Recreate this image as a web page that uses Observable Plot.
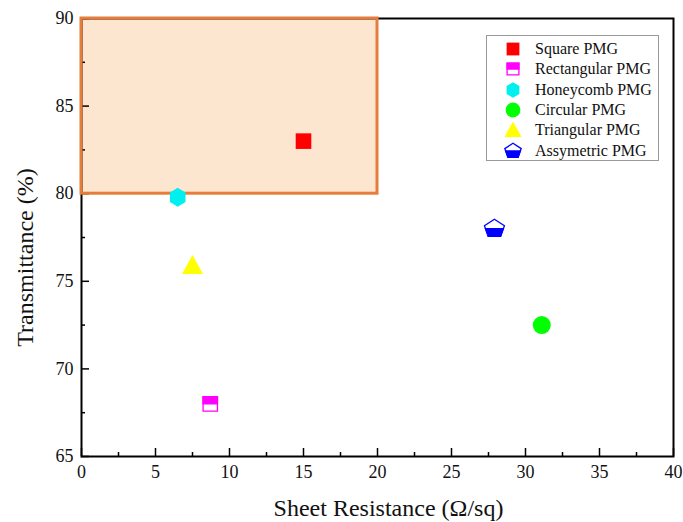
<!DOCTYPE html>
<html>
<head>
<meta charset="utf-8">
<script src="https://cdn.jsdelivr.net/npm/d3@7"></script>
<script src="https://cdn.jsdelivr.net/npm/@observablehq/plot@0.6"></script>
<style>
  body { margin: 0; background: white; }
  #wrap { position: relative; width: 683px; height: 522px; }
  #legend { position: absolute; left: 486px; top: 35px; width: 173px; height: 126px;
    border: 1px solid #999; background: white; box-sizing: border-box; padding-top: 3px;
    font-family: "Liberation Serif", "Times New Roman", serif; font-size: 16px; color: #111; }
  .row { height: 20.3px; display: flex; align-items: center; }
  .row svg { width: 24px; height: 20px; margin-left: 14px; margin-right: 10px; overflow: visible; }
</style>
</head>
<body>
<div id="wrap"></div>
<script>
// ---- data ----
const series = ["Square PMG", "Rectangular PMG", "Honeycomb PMG", "Circular PMG", "Triangular PMG", "Assymetric PMG"];
const sheetResistance = [15, 8.7, 6.5, 31.1, 7.5, 27.9];
const transmittance = [83, 68, 79.8, 72.5, 75.9, 78];
const colors = ["#ff0000", "#ff00ff", "#00f0f0", "#00ff00", "#ffff00", "#0000ff"];
const xTicks = [0, 5, 10, 15, 20, 25, 30, 35, 40];
const xMinorTicks = [2.5, 7.5, 12.5, 17.5, 22.5, 27.5, 32.5, 37.5];
const yTicks = [65, 70, 75, 80, 85, 90];
const yMinorTicks = [67.5, 72.5, 77.5, 82.5, 87.5];
const highlightX = [0, 20];
const highlightY = [80, 90];

// ---- symbols ----
const rOf = size => Math.sqrt(size / Math.PI);
const poly = (ctx, pts) => { ctx.moveTo(pts[0][0], pts[0][1]); for (const p of pts.slice(1)) ctx.lineTo(p[0], p[1]); ctx.closePath(); };
const symSquare = { draw(ctx, size) { const r = rOf(size); ctx.rect(-r, -r, 2 * r, 2 * r); } };
const symRectTop = { draw(ctx, size) { const r = rOf(size); ctx.rect(-r, -r, 2 * r, r); } };
const symHex = { draw(ctx, size) { const r = rOf(size); const pts = d3.range(6).map(k => { const a = (-90 + 60 * k) * Math.PI / 180; return [r * Math.cos(a) * 0.95, r * Math.sin(a)]; }); poly(ctx, pts); } };
const symCircle = { draw(ctx, size) { const r = rOf(size); ctx.moveTo(r, 0); ctx.arc(0, 0, r, 0, 2 * Math.PI); } };
const symTri = { draw(ctx, size) { const r = rOf(size); poly(ctx, [[0, -1.0 * r], [r, 0.8 * r], [-r, 0.8 * r]]); } };
const pentPts = r => d3.range(5).map(k => { const a = (-90 + 72 * k) * Math.PI / 180; return [r * Math.cos(a) * 1.05, r * Math.sin(a) * 0.95]; });
const symPent = { draw(ctx, size) { poly(ctx, pentPts(rOf(size))); } };
const symPentBottom = { draw(ctx, size) { const r = rOf(size); const p = pentPts(r); const xi = 0.851 * r * 1.05; poly(ctx, [[xi, 0], p[2], p[3], [-xi, 0]]); } };

// layers per series: [symbol, fill, stroke, r]
const layers = [
  [[symSquare, colors[0], "none", 7.8]],
  [[symSquare, "white", colors[1], 7.2], [symRectTop, colors[1], colors[1], 7.2]],
  [[symHex, colors[2], "none", 9.5]],
  [[symCircle, colors[3], "none", 9]],
  [[symTri, colors[4], "none", 10.5]],
  [[symPent, "white", colors[5], 10], [symPentBottom, colors[5], colors[5], 10]]
];

const W = 683, H = 522, mL = 81, mR = 10, mT = 18, mB = 66;
const innerW = W - mL - mR, innerH = H - mT - mB;

const pointMarks = [];
series.forEach((s, i) => {
  const d = [{x: sheetResistance[i], y: transmittance[i]}];
  for (const [sym, fill, stroke, r] of layers[i]) {
    pointMarks.push(Plot.dot(d, {x: "x", y: "y", symbol: sym, r, fill, stroke, strokeWidth: 1.3}));
  }
});

const chart = Plot.plot({
  width: W, height: H,
  marginLeft: mL, marginRight: mR, marginTop: mT, marginBottom: mB,
  x: {domain: [0, 40]},
  y: {domain: [65, 90]},
  style: {fontFamily: "Liberation Serif, Times New Roman, serif", fontSize: "18px", background: "white", color: "#111"},
  marks: [
    Plot.rect([0], {x1: () => highlightX[0], x2: () => highlightX[1], y1: () => highlightY[0], y2: () => highlightY[1], fill: "#fde6d0"}),
    Plot.frame({stroke: "black", strokeWidth: 2}),
    Plot.tickX(xTicks, {x: d => d, insetTop: innerH - 8, stroke: "black", strokeWidth: 1.5}),
    Plot.tickX(xMinorTicks, {x: d => d, insetTop: innerH - 4, stroke: "black", strokeWidth: 1.5}),
    Plot.tickY(yTicks, {y: d => d, insetRight: innerW - 8, stroke: "black", strokeWidth: 1.5}),
    Plot.tickY(yMinorTicks, {y: d => d, insetRight: innerW - 4, stroke: "black", strokeWidth: 1.5}),
    Plot.axisX(xTicks, {tickSize: 0, tickPadding: 9, label: null, fontSize: 18}),
    Plot.axisY(yTicks, {tickSize: 0, tickPadding: 8, label: null, fontSize: 18}),
    Plot.rect([0], {x1: () => highlightX[0], x2: () => highlightX[1], y1: () => highlightY[0], y2: () => highlightY[1], fill: "none", stroke: "#e67d3a", strokeWidth: 3}),
    ...pointMarks,
    Plot.text(["Sheet Resistance (Ω/sq)"], {frameAnchor: "bottom", lineAnchor: "middle", textAnchor: "middle", dy: 52, dx: 11, fontSize: 24, fill: "#111"}),
    Plot.text(["Transmittance (%)"], {frameAnchor: "left", rotate: -90, textAnchor: "middle", lineAnchor: "middle", dx: -56, dy: 20, fontSize: 24, fill: "#111"})
  ]
});

const wrap = document.getElementById("wrap");
wrap.appendChild(chart);

// ---- legend ----
const legend = document.createElement("div");
legend.id = "legend";
const ns = "http://www.w3.org/2000/svg";
series.forEach((s, i) => {
  const row = document.createElement("div");
  row.className = "row";
  const svg = document.createElementNS(ns, "svg");
  svg.setAttribute("viewBox", "-12 -10 24 20");
  for (const [sym, fill, stroke, r] of layers[i]) {
    const p = d3.path();
    const rr = r * 0.82;
    sym.draw(p, Math.PI * rr * rr);
    const path = document.createElementNS(ns, "path");
    path.setAttribute("d", p.toString());
    path.setAttribute("fill", fill);
    path.setAttribute("stroke", stroke);
    path.setAttribute("stroke-width", 1.3);
    svg.appendChild(path);
  }
  row.appendChild(svg);
  const t = document.createElement("span");
  t.textContent = s;
  row.appendChild(t);
  legend.appendChild(row);
});
wrap.appendChild(legend);
</script>
</body>
</html>
